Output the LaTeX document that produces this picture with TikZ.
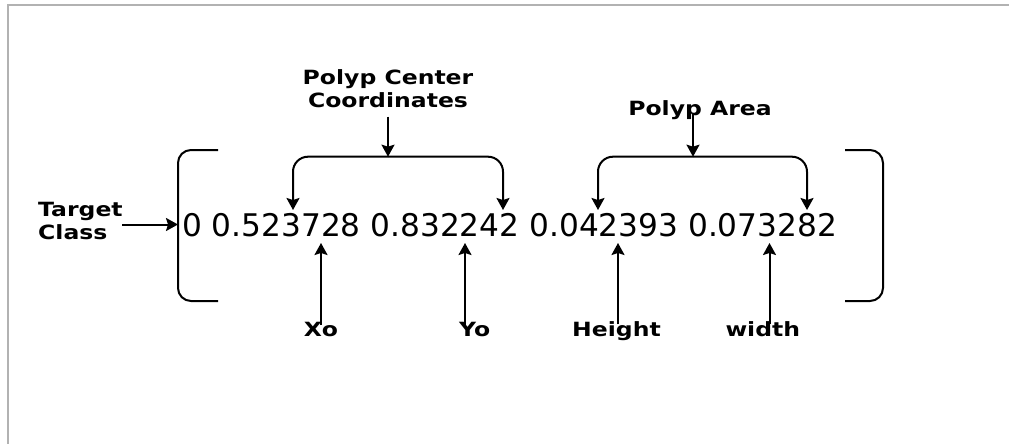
\documentclass[tikz,border=0pt]{standalone}
\usepackage{fontspec}
\usetikzlibrary{arrows.meta}
\newfontfamily\lblfont[FakeStretch=1.2]{DejaVu Sans Bold}
\newfontfamily\numfont{DejaVu Sans}

\begin{document}
\begin{tikzpicture}[
x=1pt, y=-1pt,
lbl/.style={
inner sep=0pt,
align=center,
font=\lblfont\fontsize{19.6}{23}\selectfont
},
link/.style={-{Stealth[length=12pt,width=13pt,inset=2pt]}, line width=2pt},
brk/.style={line width=2pt, rounded corners=13pt},
fork/.style={link, rounded corners=15pt}
]

\useasboundingbox (0,0) rectangle (1009,444);
\draw[line width=1.8pt, black!30] (1009,4.8) -- (8,4.8) -- (8,444);

% values row
\node (vals) [anchor=base west, inner sep=0pt, font=\numfont\fontsize{31.2}{36}\selectfont]
at (182,236) {0 0.523728 0.832242 0.042393 0.073282};

\draw[brk] (218,150) -- (178,150) -- (178,301) -- (218,301);
\draw[brk] (845,150) -- (883,150) -- (883,301) -- (845,301);

% target class
\node (target) [lbl, anchor=north west, align=left] at (38,201.7) {Target\\Class};
\coordinate (tcstart) at (122,224.5);
\coordinate (tctip) at (178,224.5);
\draw[link] (tcstart) -- (tctip);

% polyp center coordinates
\node (center) [lbl, anchor=north] at (388,69) {Polyp Center\\Coordinates};
\coordinate (pcmid) at (388,156.7);
\coordinate (pcleft) at (293,210);
\coordinate (pcright) at (503,210);
\draw[link, shorten <=9pt] (center.south -| pcmid) -- (pcmid);
\draw[fork] (pcmid) -| (pcleft);
\draw[fork] (pcmid) -| (pcright);

% polyp area
\node (area) [lbl, anchor=base] at (700,115.7) {Polyp Area};
\coordinate (pamid) at (693,156.7);
\coordinate (paleft) at (598,210);
\coordinate (paright) at (807,210);
\draw[link, shorten <=-3pt] (area.base -| pamid) -- (pamid);
\draw[fork] (pamid) -| (paleft);
\draw[fork] (pamid) -| (paright);

% bottom labels
\node (xo) [lbl, anchor=base] at (321,336.5) {Xo};
\node (yo) [lbl, anchor=base] at (474.7,336.5) {Yo};
\node (hgt) [lbl, anchor=base] at (616.5,336.5) {Height};
\node (wdt) [lbl, anchor=base] at (762.8,336.5) {width};

\coordinate (xotip) at (321,243);
\coordinate (yotip) at (465,243);
\coordinate (hgttip) at (618,243);
\coordinate (wdttip) at (769.5,243);

\draw[link, shorten <=-3pt] (xo.north -| xotip) -- (xotip);
\draw[link, shorten <=-3pt] (yo.north -| yotip) -- (yotip);
\draw[link, shorten <=-3pt] (hgt.north -| hgttip) -- (hgttip);
\draw[link, shorten <=-3pt] (wdt.north -| wdttip) -- (wdttip);

\end{tikzpicture}
\end{document}
